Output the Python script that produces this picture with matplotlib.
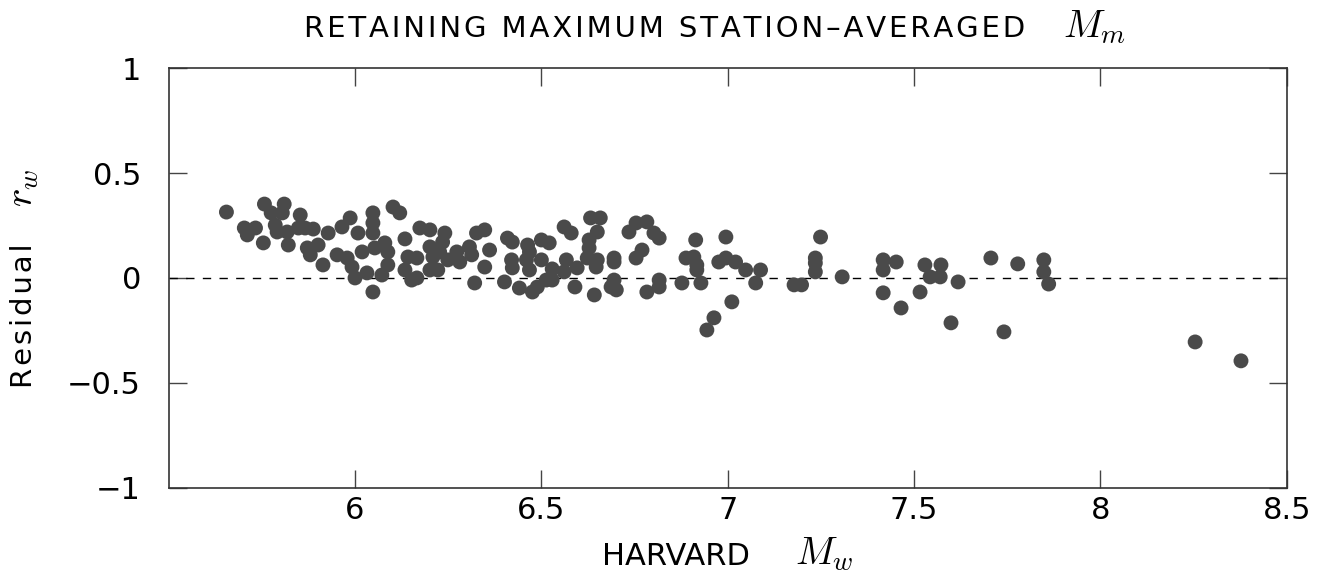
import matplotlib
matplotlib.use("Agg")
import matplotlib.pyplot as plt

# Harvard Mw and residual r_w
mw = [5.655, 5.757, 5.810, 5.703, 5.733, 5.711, 5.754, 5.775, 5.805, 5.853,
      5.786, 5.791, 5.818, 5.821, 5.848, 5.866, 5.888, 5.872, 5.880, 5.901,
      5.928, 5.914, 5.965, 5.987, 6.008, 5.952, 5.979, 5.992, 6.000, 6.019,
      6.032, 6.048, 6.048, 6.048, 6.053, 6.072, 6.048, 6.080, 6.088, 6.088,
      6.102, 6.120, 6.134, 6.174, 6.201, 6.142, 6.166, 6.134, 6.152, 6.166,
      6.201, 6.209, 6.241, 6.235, 6.227, 6.201, 6.222, 6.249, 6.273, 6.281,
      6.307, 6.313, 6.326, 6.348, 6.361, 6.348, 6.321, 6.409, 6.422, 6.420,
      6.422, 6.401, 6.441, 6.463, 6.468, 6.460, 6.468, 6.500, 6.521, 6.500,
      6.476, 6.489, 6.513, 6.529, 6.529, 6.561, 6.580, 6.567, 6.561, 6.596,
      6.590, 6.632, 6.658, 6.650, 6.628, 6.628, 6.623, 6.650, 6.647, 6.642,
      6.695, 6.695, 6.695, 6.687, 6.701, 6.735, 6.754, 6.783, 6.802, 6.816,
      6.754, 6.770, 6.816, 6.816, 6.783, 6.877, 6.888, 6.909, 6.914, 6.917,
      6.917, 6.928, 6.976, 6.995, 6.995, 7.021, 7.048, 7.088, 7.075, 7.011,
      6.963, 6.944, 7.178, 7.198, 7.249, 7.235, 7.235, 7.235, 7.307, 7.417,
      7.417, 7.452, 7.417, 7.465, 7.529, 7.572, 7.543, 7.570, 7.618, 7.516,
      7.599, 7.706, 7.778, 7.741, 7.848, 7.848, 7.861, 8.254, 8.377]
resid = [0.314, 0.352, 0.352, 0.238, 0.238, 0.205, 0.167, 0.310, 0.310, 0.300,
         0.252, 0.219, 0.219, 0.157, 0.238, 0.238, 0.233, 0.143, 0.110, 0.157,
         0.214, 0.062, 0.243, 0.286, 0.214, 0.110, 0.095, 0.052, 0.000, 0.124,
         0.024, 0.310, 0.262, 0.214, 0.143, 0.014, -0.067, 0.167, 0.124, 0.062,
         0.338, 0.310, 0.186, 0.238, 0.229, 0.100, 0.095, 0.038, -0.010, 0.000,
         0.148, 0.100, 0.214, 0.171, 0.124, 0.038, 0.038, 0.086, 0.124, 0.076,
         0.148, 0.110, 0.214, 0.229, 0.133, 0.052, -0.024, 0.190, 0.171, 0.086,
         0.048, -0.019, -0.048, 0.157, 0.124, 0.086, 0.038, 0.181, 0.167, 0.086,
         -0.067, -0.043, -0.010, -0.010, 0.043, 0.243, 0.214, 0.086, 0.029, 0.048,
         -0.043, 0.286, 0.286, 0.219, 0.181, 0.143, 0.095, 0.086, 0.052, -0.081,
         0.095, 0.076, -0.010, -0.043, -0.057, 0.219, 0.262, 0.267, 0.214, 0.190,
         0.095, 0.133, -0.010, -0.043, -0.067, -0.024, 0.095, 0.100, 0.181, 0.062,
         0.038, -0.024, 0.076, 0.195, 0.095, 0.076, 0.038, 0.038, -0.024, -0.114,
         -0.190, -0.248, -0.033, -0.033, 0.195, 0.095, 0.071, 0.029, 0.005, 0.086,
         0.038, 0.076, -0.071, -0.143, 0.062, 0.062, 0.005, 0.005, -0.019, -0.067,
         -0.214, 0.095, 0.067, -0.257, 0.086, 0.029, -0.029, -0.305, -0.395]

xticks = [6, 6.5, 7, 7.5, 8, 8.5]
xticklabels = ['6', '6.5', '7', '7.5', '8', '8.5']
yticks = [-1, -0.5, 0, 0.5, 1]
yticklabels = ['\u22121', '\u22120.5', '0', '0.5', '1']

title_words = 'RETAINING MAXIMUM STATION\u2013AVERAGED'
xlabel_words = 'HARVARD'
ylabel_words = 'Residual'


def spaced(s):
    # the original lettering is widely tracked; pad with hair spaces
    return '\u200a'.join(s)


plt.rcParams['mathtext.fontset'] = 'cm'
plt.rcParams['font.family'] = 'DejaVu Sans'

fig = plt.figure(figsize=(13.28, 5.87), dpi=100)
ax = fig.add_axes([0.127, 0.169, 0.842, 0.715])

ax.scatter(mw, resid, s=115, color='#4a4a4a', edgecolors='none', zorder=3)
ax.axhline(0, color='black', lw=1.0, ls=(0, (6, 6)), zorder=2)

ax.set_xlim(5.5, 8.5)
ax.set_ylim(-1, 1)
ax.set_xticks(xticks)
ax.set_xticklabels(xticklabels)
ax.set_yticks(yticks)
ax.set_yticklabels(yticklabels)
ax.tick_params(direction='in', length=13, width=1.0, top=True, right=True,
               labelsize=22, colors='#444444', labelcolor='black')
ax.tick_params(axis='y', pad=20)
ax.tick_params(axis='x', pad=6)
for sp in ax.spines.values():
    sp.set_linewidth(1.2)
    sp.set_color('#333333')

# title: words plus a larger math symbol
ax.text(0.766, 1.074, spaced(title_words), transform=ax.transAxes,
        ha='right', va='baseline', fontsize=21)
ax.text(0.800, 1.074, '$M_m$', transform=ax.transAxes,
        ha='left', va='baseline', fontsize=28)

# x label
ax.text(0.520, -0.183, xlabel_words, transform=ax.transAxes,
        ha='right', va='baseline', fontsize=22)
ax.text(0.560, -0.183, '$M_w$', transform=ax.transAxes,
        ha='left', va='baseline', fontsize=28)

# y label (rotated)
ax.text(-0.122, 0.238, spaced(ylabel_words), transform=ax.transAxes, rotation=90,
        ha='left', va='baseline', rotation_mode='anchor', fontsize=21)
ax.text(-0.122, 0.669, '$r_w$', transform=ax.transAxes, rotation=90,
        ha='left', va='baseline', rotation_mode='anchor', fontsize=28)

fig.savefig('out.png', dpi=100)
